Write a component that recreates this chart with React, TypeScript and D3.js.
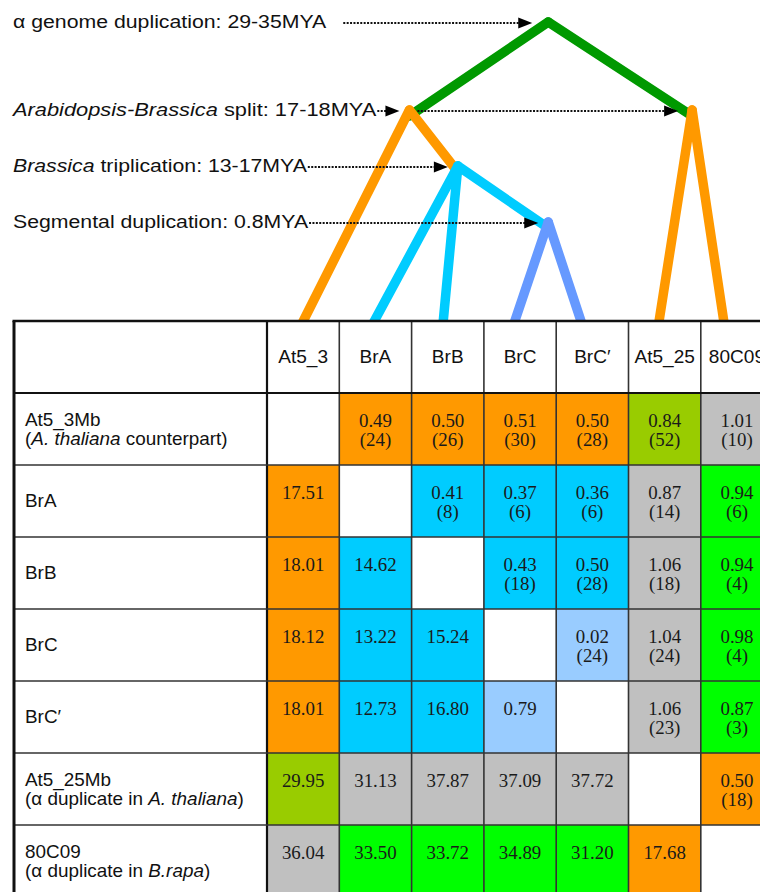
import React, { useRef, useEffect } from 'react';
import * as d3 from 'd3';

// table columns / rows
const columns = ['At5_3', 'BrA', 'BrB', 'BrC', 'BrC′', 'At5_25', '80C09'];
const rowNames = ['At5_3Mb', 'BrA', 'BrB', 'BrC', 'BrC′', 'At5_25Mb', '80C09'];

type Seg = { t: string; i?: boolean };
const rowNotes: (Seg[] | null)[] = [
  [{ t: '(' }, { t: 'A. thaliana', i: true }, { t: ' counterpart)' }],
  null,
  null,
  null,
  null,
  [{ t: '(α duplicate in ' }, { t: 'A. thaliana', i: true }, { t: ')' }],
  [{ t: '(α duplicate in ' }, { t: 'B.rapa', i: true }, { t: ')' }],
];

// divergence values (upper: Ks with gene pairs, lower: other estimates)
const cellValues: (number | null)[][] = [
  [null, 0.49, 0.50, 0.51, 0.50, 0.84, 1.01],
  [17.51, null, 0.41, 0.37, 0.36, 0.87, 0.94],
  [18.01, 14.62, null, 0.43, 0.50, 1.06, 0.94],
  [18.12, 13.22, 15.24, null, 0.02, 1.04, 0.98],
  [18.01, 12.73, 16.80, 0.79, null, 1.06, 0.87],
  [29.95, 31.13, 37.87, 37.09, 37.72, null, 0.50],
  [36.04, 33.50, 33.72, 34.89, 31.20, 17.68, null],
];
const pairCounts: (number | null)[][] = [
  [null, 24, 26, 30, 28, 52, 10],
  [null, null, 8, 6, 6, 14, 6],
  [null, null, null, 18, 28, 18, 4],
  [null, null, null, null, 24, 24, 4],
  [null, null, null, null, null, 23, 3],
  [null, null, null, null, null, null, 18],
  [null, null, null, null, null, null, null],
];
// o=orange c=cyan g=gray l=lime G=green b=light blue w=white
const cellGroups = [
  'woooolg',
  'owcccgG',
  'ocwccgG',
  'occwbgG',
  'occbwgG',
  'lggggwo',
  'gGGGGow',
];
const cellPalette: Record<string, string> = {
  o: '#FF9900', c: '#00CCFF', g: '#C0C0C0', l: '#99CC00', G: '#00FF00', b: '#99CCFF', w: '#FFFFFF',
};

// events on the tree
const events: { key: string; label: Seg[] }[] = [
  { key: 'alpha', label: [{ t: 'α genome duplication: 29-35MYA' }] },
  { key: 'split', label: [{ t: 'Arabidopsis-Brassica', i: true }, { t: ' split: 17-18MYA' }] },
  { key: 'triplication', label: [{ t: 'Brassica', i: true }, { t: ' triplication: 13-17MYA' }] },
  { key: 'segmental', label: [{ t: 'Segmental duplication: 0.8MYA' }] },
];

// tree nodes, pos in column units
const treeNodes = [
  { id: 'alpha', event: 'alpha', pos: 3.89, parent: null, color: 'green' },
  { id: 'atBr', event: 'split', pos: 1.97, parent: 'alpha', color: 'orange' },
  { id: 'br80', event: 'split', pos: 5.88, parent: 'alpha', color: 'orange' },
  { id: 'tri', event: 'triplication', pos: 2.64, parent: 'atBr', color: 'cyan' },
  { id: 'seg', event: 'segmental', pos: 3.89, parent: 'tri', color: 'blue' },
  { id: 'At5_3', event: 'leaf', pos: 0.46, parent: 'atBr', color: 'orange' },
  { id: 'BrA', event: 'leaf', pos: 1.44, parent: 'tri', color: 'cyan' },
  { id: 'BrB', event: 'leaf', pos: 2.43, parent: 'tri', color: 'cyan' },
  { id: 'BrC', event: 'leaf', pos: 3.4, parent: 'seg', color: 'blue' },
  { id: 'BrC′', event: 'leaf', pos: 4.37, parent: 'seg', color: 'blue' },
  { id: 'At5_25', event: 'leaf', pos: 5.41, parent: 'br80', color: 'orange' },
  { id: '80C09', event: 'leaf', pos: 6.33, parent: 'br80', color: 'orange' },
];
const treePalette: Record<string, string> = {
  green: '#009900', orange: '#FF9900', cyan: '#00CCFF', blue: '#6699FF',
};

const SANS = '"Liberation Sans", Arial, sans-serif';
const SERIF = '"Liberation Serif", "Times New Roman", serif';

export default function App() {
  const svgRef = useRef<SVGSVGElement>(null);

  useEffect(() => {
    if (!svgRef.current) return;
    const width = 760;
    const height = 892;
    const svg = d3.select(svgRef.current).attr('width', width).attr('height', height);
    svg.selectAll('*').remove();

    const tableLeft = 14;
    const labelRight = 267;
    const colX = d3.scaleBand<string>().domain(columns).range([labelRight, labelRight + 72.3 * 7]);
    const colPos = d3.scaleLinear().domain([0, 7]).range([labelRight, labelRight + 72.3 * 7]);
    const rowY = d3.scaleBand<string>().domain(['header', ...rowNames]).range([321, 321 + 72 * 8]);
    const eventY = d3.scaleOrdinal<string, number>()
      .domain(['alpha', 'split', 'triplication', 'segmental', 'leaf'])
      .range([22, 110, 166, 222, 321]);

    const byId = new Map(treeNodes.map(n => [n.id, n]));
    const nx = (n: any) => colPos(n.pos);
    const ny = (n: any) => eventY(n.event);

    //TREE
    const treeG = svg.append('g');
    const depth = (n: any): number => (n.parent ? 1 + depth(byId.get(n.parent)) : 0);
    const edges = treeNodes.filter(n => n.parent)
      .map(n => ({ child: n, parent: byId.get(n.parent as string)! }))
      .sort((a, b) => depth(a.parent) - depth(b.parent));
    treeG.selectAll('line.edge')
      .data(edges)
      .join('line')
      .attr('class', 'edge')
      .attr('x1', d => nx(d.parent))
      .attr('y1', d => ny(d.parent))
      .attr('x2', d => nx(d.child))
      .attr('y2', d => ny(d.child) + 6)
      .attr('stroke', d => treePalette[d.parent.color])
      .attr('stroke-width', 9.5)
      .attr('stroke-linecap', 'round');

    //TABLE
    const tableG = svg.append('g');
    // header row
    tableG.append('rect')
      .attr('x', tableLeft).attr('y', rowY('header')!)
      .attr('width', width).attr('height', rowY.bandwidth())
      .attr('fill', '#fff');
    rowNames.forEach((r, ri) => {
      tableG.append('rect')
        .attr('x', tableLeft).attr('y', rowY(r)!)
        .attr('width', labelRight - tableLeft).attr('height', rowY.bandwidth())
        .attr('fill', '#fff');
      columns.forEach((c, ci) => {
        tableG.append('rect')
          .attr('x', colX(c)!).attr('y', rowY(r)!)
          .attr('width', colX.bandwidth()).attr('height', rowY.bandwidth())
          .attr('fill', cellPalette[cellGroups[ri][ci]]);
      });
    });

    // grid lines
    const gridColor = '#333';
    [...columns.map(c => colX(c)!), labelRight + 72.3 * 7].forEach((x, i) => {
      tableG.append('line')
        .attr('x1', x).attr('x2', x)
        .attr('y1', rowY('header')!).attr('y2', height)
        .attr('stroke', i === 0 ? '#111' : gridColor)
        .attr('stroke-width', i === 0 ? 2.2 : 1.6);
    });
    ['header', ...rowNames].forEach((r, i) => {
      const y = rowY(r)! + rowY.bandwidth();
      tableG.append('line')
        .attr('x1', tableLeft).attr('x2', width)
        .attr('y1', y).attr('y2', y)
        .attr('stroke', i === 0 ? '#111' : gridColor)
        .attr('stroke-width', i === 0 ? 2.2 : 1.6);
    });
    tableG.append('line')
      .attr('x1', tableLeft - 1.5).attr('x2', width)
      .attr('y1', rowY('header')!).attr('y2', rowY('header')!)
      .attr('stroke', '#111').attr('stroke-width', 2.6);
    tableG.append('line')
      .attr('x1', tableLeft).attr('x2', tableLeft)
      .attr('y1', rowY('header')!).attr('y2', height)
      .attr('stroke', '#111').attr('stroke-width', 3);

    // header labels
    columns.forEach(c => {
      tableG.append('text')
        .attr('transform', `translate(${colX(c)! + colX.bandwidth() / 2},${rowY('header')! + rowY.bandwidth() / 2}) scale(1.06,1)`)
        .attr('text-anchor', 'middle')
        .attr('dominant-baseline', 'central')
        .attr('font-family', SANS)
        .attr('font-size', 18)
        .attr('fill', '#111')
        .text(c);
    });

    const addSegs = (sel: any, segs: Seg[]) => {
      segs.forEach(s => {
        sel.append('tspan').attr('font-style', s.i ? 'italic' : 'normal').text(s.t);
      });
    };

    // row labels
    rowNames.forEach((r, ri) => {
      const cy = rowY(r)! + rowY.bandwidth() / 2;
      const note = rowNotes[ri];
      tableG.append('text')
        .attr('transform', `translate(25,${note ? cy - 9 : cy}) scale(1.08,1)`)
        .attr('dominant-baseline', 'central')
        .attr('font-family', SANS).attr('font-size', 17.5).attr('fill', '#111')
        .text(r);
      if (note) {
        const t2 = tableG.append('text')
          .attr('transform', `translate(25,${cy + 10}) scale(1.08,1)`)
          .attr('dominant-baseline', 'central')
          .attr('font-family', SANS).attr('font-size', 17.5).attr('fill', '#111');
        addSegs(t2, note);
      }
    });

    // cell values
    rowNames.forEach((r, ri) => {
      const cy = rowY(r)! + rowY.bandwidth() / 2;
      columns.forEach((c, ci) => {
        const v = cellValues[ri][ci];
        if (v == null) return;
        const cx = colX(c)! + colX.bandwidth() / 2;
        tableG.append('text')
          .attr('transform', `translate(${cx},${cy - 8}) scale(1.05,1)`)
          .attr('text-anchor', 'middle').attr('dominant-baseline', 'central')
          .attr('font-family', SERIF).attr('font-size', 18).attr('fill', '#1a1a1a')
          .text(v.toFixed(2));
        const n = pairCounts[ri][ci];
        if (n != null) {
          tableG.append('text')
            .attr('transform', `translate(${cx},${cy + 11}) scale(1.05,1)`)
            .attr('text-anchor', 'middle').attr('dominant-baseline', 'central')
            .attr('font-family', SERIF).attr('font-size', 18).attr('fill', '#1a1a1a')
            .text(`(${n})`);
        }
      });
    });

    //EVENT LABELS + ARROWS
    const arrowG = svg.append('g');
    const arrow = (x1: number, x2: number, y: number) => {
      arrowG.append('line')
        .attr('x1', x1).attr('x2', x2 - 10)
        .attr('y1', y).attr('y2', y)
        .attr('stroke', '#111').attr('stroke-width', 2)
        .attr('stroke-dasharray', '2 1.4');
      arrowG.append('path')
        .attr('d', `M${x2},${y} L${x2 - 14},${y - 5.5} L${x2 - 14},${y + 5.5} Z`)
        .attr('fill', '#000');
    };
    events.forEach(ev => {
      const y = eventY(ev.key);
      const sx = ev.key === 'split' ? 1.18 : 1.15;
      const txt = arrowG.append('text')
        .attr('transform', `translate(13,${y + 6}) scale(${sx},1)`)
        .attr('font-family', SANS).attr('font-size', 18.5).attr('fill', '#111');
      addSegs(txt, ev.label);
      const end = 13 + (txt.node() as SVGTextElement).getComputedTextLength() * sx;
      const nodes = treeNodes.filter(n => n.event === ev.key);
      const first = nodes[0];
      const gap = ev.key === 'alpha' ? 16 : 10;
      arrow(end + (ev.key === 'alpha' ? 17 : 1), nx(first) - gap, y + 1);
      if (nodes.length > 1) arrow(nx(first) + 8, nx(nodes[1]) - 14, y + 1);
    });
  }, []);

  return (
    <div style={{ position: 'absolute', left: 0, top: 0 }}>
      <svg ref={svgRef} style={{ display: 'block', background: '#fff' }} />
    </div>
  );
}
